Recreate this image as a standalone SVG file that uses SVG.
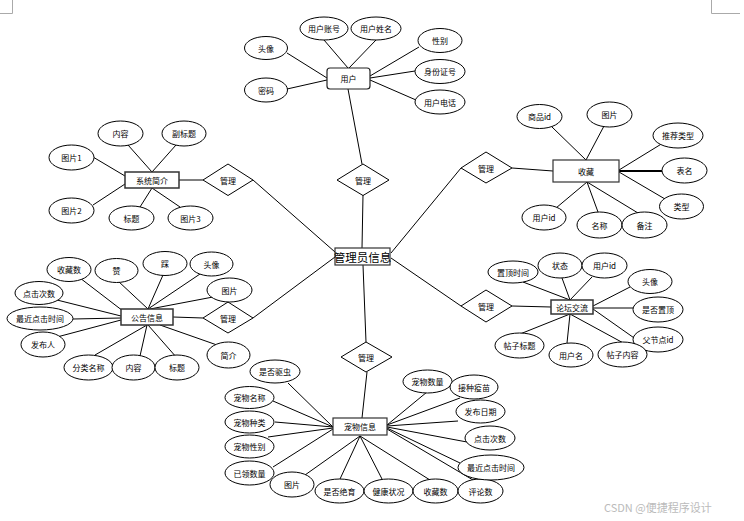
<svg xmlns="http://www.w3.org/2000/svg" width="744" height="521" viewBox="0 0 744 521">
<style>
text{font-family:"Noto Sans CJK SC","Liberation Sans",sans-serif;font-size:8px;fill:#000;text-anchor:middle;dominant-baseline:central}
ellipse{fill:#fff;stroke:#000;stroke-width:1}
.ent{fill:#fff;stroke:#333;stroke-width:1.5}
.rel{fill:#fff;stroke:#000;stroke-width:1}
#connectors line{stroke:#000;stroke-width:1}
.mark{stroke:#aaa;stroke-width:1;fill:none}
.big{font-size:11.5px}
.wm{font-size:11px;fill:#bbb;text-anchor:start}
</style>
<rect width="744" height="521" fill="#fff"/>
<path class="mark" d="M12.5 0V13.5H0M711.5 0V13.5H740"/>
<g id="connectors">
<!-- user -->
<line x1="324" y1="40" x2="348" y2="68"/>
<line x1="376" y1="40" x2="349" y2="68"/>
<line x1="287" y1="53" x2="327" y2="78"/>
<line x1="287" y1="89" x2="327" y2="80"/>
<line x1="419" y1="47" x2="370" y2="76"/>
<line x1="415" y1="71" x2="370" y2="78"/>
<line x1="416" y1="100" x2="370" y2="80"/>
<line x1="348" y1="89" x2="362" y2="164"/>
<!-- center -->
<line x1="363" y1="195" x2="362" y2="248"/>
<line x1="253" y1="180" x2="335" y2="252"/>
<line x1="253" y1="318" x2="335" y2="257"/>
<line x1="461" y1="168" x2="391" y2="253"/>
<line x1="461" y1="306" x2="391" y2="258"/>
<line x1="363" y1="265" x2="366" y2="342"/>
<!-- 系统简介 -->
<line x1="128" y1="145" x2="152" y2="172"/>
<line x1="176" y1="145" x2="152" y2="172"/>
<line x1="93" y1="157" x2="125" y2="176"/>
<line x1="93" y1="205" x2="125" y2="184"/>
<line x1="140" y1="207" x2="152" y2="188"/>
<line x1="180" y1="207" x2="152" y2="188"/>
<line x1="179" y1="180" x2="203" y2="180"/>
<!-- 收藏 -->
<line x1="552" y1="127" x2="586" y2="160"/>
<line x1="604" y1="126" x2="586" y2="160"/>
<line x1="663" y1="143" x2="619" y2="170"/>
<line x1="662" y1="171" x2="619" y2="171" style="stroke-width:1.8"/>
<line x1="665" y1="199" x2="619" y2="172"/>
<line x1="556" y1="208" x2="587" y2="182"/>
<line x1="598" y1="212" x2="587" y2="182"/>
<line x1="638" y1="213" x2="587" y2="182"/>
<line x1="512" y1="168" x2="553" y2="171"/>
<!-- 公告信息 -->
<line x1="80" y1="278" x2="123" y2="311"/>
<line x1="118" y1="281" x2="148" y2="309"/>
<line x1="163" y1="275" x2="148" y2="309"/>
<line x1="200" y1="274" x2="148" y2="309"/>
<line x1="213" y1="297" x2="150" y2="309"/>
<line x1="57" y1="300" x2="121" y2="316"/>
<line x1="73" y1="319" x2="121" y2="318"/>
<line x1="57" y1="337" x2="121" y2="320"/>
<line x1="95" y1="355" x2="147" y2="325"/>
<line x1="140" y1="356" x2="147" y2="325"/>
<line x1="177" y1="358" x2="148" y2="325"/>
<line x1="217" y1="345" x2="160" y2="325"/>
<line x1="173" y1="317" x2="203" y2="318"/>
<!-- 论坛交流 -->
<line x1="523" y1="282" x2="570" y2="300"/>
<line x1="562" y1="278" x2="570" y2="300"/>
<line x1="592" y1="277" x2="570" y2="300"/>
<line x1="630" y1="287" x2="593" y2="306"/>
<line x1="633" y1="308" x2="593" y2="308"/>
<line x1="637" y1="340" x2="593" y2="309"/>
<line x1="627" y1="345" x2="570" y2="314"/>
<line x1="567" y1="343" x2="570" y2="314"/>
<line x1="520" y1="334" x2="570" y2="314"/>
<line x1="512" y1="306" x2="551" y2="307"/>
<!-- 宠物信息 -->
<line x1="288" y1="383" x2="333" y2="427"/>
<line x1="273" y1="401" x2="333" y2="427"/>
<line x1="275" y1="422" x2="333" y2="427"/>
<line x1="268" y1="437" x2="333" y2="428"/>
<line x1="273" y1="467" x2="333" y2="429"/>
<line x1="305" y1="475" x2="360" y2="436"/>
<line x1="340" y1="479" x2="360" y2="436"/>
<line x1="382" y1="479" x2="360" y2="436"/>
<line x1="430" y1="480" x2="360" y2="436"/>
<line x1="427" y1="392" x2="387" y2="425"/>
<line x1="460" y1="398" x2="387" y2="425"/>
<line x1="458" y1="421" x2="387" y2="426"/>
<line x1="467" y1="442" x2="387" y2="427"/>
<line x1="460" y1="463" x2="387" y2="428"/>
<line x1="473" y1="480" x2="387" y2="429"/>
<line x1="367" y1="372" x2="362" y2="418"/>
</g>
<!-- 用户 -->
<g id="user"><rect x="327" y="68" width="43" height="21" rx="3" class="ent" style="stroke:#222;stroke-width:1.2"/><text x="348.5" y="78.5">用户</text></g>
<g id="user-account"><ellipse cx="324" cy="28.5" rx="24" ry="11.5"/><text x="324" y="28.5">用户账号</text></g>
<g id="user-name"><ellipse cx="376" cy="28.5" rx="25" ry="11.5"/><text x="376" y="28.5">用户姓名</text></g>
<g id="user-avatar"><ellipse cx="266" cy="48" rx="21.5" ry="11.5"/><text x="266" y="48">头像</text></g>
<g id="user-pwd"><ellipse cx="266" cy="90" rx="21.5" ry="12"/><text x="266" y="90">密码</text></g>
<g id="user-sex"><ellipse cx="440" cy="40.5" rx="22" ry="12"/><text x="440" y="40.5">性别</text></g>
<g id="user-id"><ellipse cx="440" cy="71.5" rx="25" ry="12"/><text x="440" y="71.5">身份证号</text></g>
<g id="user-tel"><ellipse cx="440" cy="102" rx="25" ry="12"/><text x="440" y="102">用户电话</text></g>
<!-- center -->
<g id="admin"><rect x="335" y="248" width="55" height="17" class="ent" style="stroke-width:1.2"/><text x="362.5" y="256.5" class="big">管理员信息</text></g>
<g id="rel-top"><polygon points="363,164 389,180 363,195.5 337,180" class="rel"/><text x="363" y="180">管理</text></g>
<g id="rel-lt"><polygon points="228,164 253,180 228,195.5 203,180" class="rel"/><text x="228" y="180">管理</text></g>
<g id="rel-lb"><polygon points="228,302 253,318 228,333 203,318" class="rel"/><text x="228" y="318">管理</text></g>
<g id="rel-bottom"><polygon points="366,342 392,357 366,372 341,357" class="rel"/><text x="366" y="357">管理</text></g>
<g id="rel-rt"><polygon points="486,152 512,168 486,183 461,168" class="rel"/><text x="486" y="168">管理</text></g>
<g id="rel-rb"><polygon points="486,290 512,306 486,322 461,306" class="rel"/><text x="486" y="306">管理</text></g>
<!-- 系统简介 -->
<g id="intro"><rect x="125" y="172" width="54" height="16" class="ent"/><text x="152" y="180">系统简介</text></g>
<g id="intro-content"><ellipse cx="120.5" cy="133.5" rx="22.5" ry="12.5"/><text x="120.5" y="133.5">内容</text></g>
<g id="intro-subtitle"><ellipse cx="184" cy="133.5" rx="22" ry="12.5"/><text x="184" y="133.5">副标题</text></g>
<g id="intro-pic1"><ellipse cx="71.5" cy="157.5" rx="22.5" ry="12.5"/><text x="71.5" y="157.5">图片1</text></g>
<g id="intro-pic2"><ellipse cx="71.5" cy="210.5" rx="22.5" ry="12.5"/><text x="71.5" y="210.5">图片2</text></g>
<g id="intro-title"><ellipse cx="131.5" cy="218" rx="22.5" ry="12"/><text x="131.5" y="218">标题</text></g>
<g id="intro-pic3"><ellipse cx="190.5" cy="218" rx="22.5" ry="12"/><text x="190.5" y="218">图片3</text></g>
<!-- 收藏 -->
<g id="fav"><rect x="553" y="160" width="66" height="22" class="ent" style="stroke-width:1.2"/><text x="586" y="171">收藏</text></g>
<g id="fav-goods"><ellipse cx="539.5" cy="116.5" rx="22.5" ry="12"/><text x="539.5" y="116.5">商品id</text></g>
<g id="fav-pic"><ellipse cx="609.5" cy="114.5" rx="22.5" ry="12.5"/><text x="609.5" y="114.5">图片</text></g>
<g id="fav-rec"><ellipse cx="678" cy="135.5" rx="25" ry="12.5"/><text x="678" y="135.5">推荐类型</text></g>
<g id="fav-table"><ellipse cx="684.5" cy="170.5" rx="22.5" ry="12.5"/><text x="684.5" y="170.5">表名</text></g>
<g id="fav-type"><ellipse cx="681.5" cy="206.5" rx="22" ry="12.5"/><text x="681.5" y="206.5">类型</text></g>
<g id="fav-uid"><ellipse cx="544" cy="217.5" rx="22" ry="12.5"/><text x="544" y="217.5">用户id</text></g>
<g id="fav-name"><ellipse cx="599.5" cy="225" rx="22.5" ry="13"/><text x="599.5" y="225">名称</text></g>
<g id="fav-note"><ellipse cx="644.5" cy="225" rx="22.5" ry="13"/><text x="644.5" y="225">备注</text></g>
<!-- 公告信息 -->
<g id="notice"><rect x="121" y="309" width="52" height="16" class="ent"/><text x="147" y="317">公告信息</text></g>
<g id="notice-fav"><ellipse cx="69" cy="269.5" rx="22" ry="12"/><text x="69" y="269.5">收藏数</text></g>
<g id="notice-up"><ellipse cx="116.5" cy="270.5" rx="21.5" ry="12"/><text x="116.5" y="270.5">赞</text></g>
<g id="notice-down"><ellipse cx="165" cy="263.5" rx="22" ry="12"/><text x="165" y="263.5">踩</text></g>
<g id="notice-avatar"><ellipse cx="211.5" cy="264" rx="21.5" ry="12"/><text x="211.5" y="264">头像</text></g>
<g id="notice-pic"><ellipse cx="229.5" cy="290" rx="22.5" ry="12"/><text x="229.5" y="290">图片</text></g>
<g id="notice-clicks"><ellipse cx="39" cy="293" rx="24" ry="11.5"/><text x="39" y="293">点击次数</text></g>
<g id="notice-lastclick"><ellipse cx="40" cy="318.5" rx="33" ry="11.5"/><text x="40" y="318.5">最近点击时间</text></g>
<g id="notice-author"><ellipse cx="43" cy="344.5" rx="22" ry="12.5"/><text x="43" y="344.5">发布人</text></g>
<g id="notice-cat"><ellipse cx="88.5" cy="367.5" rx="24.5" ry="12.5"/><text x="88.5" y="367.5">分类名称</text></g>
<g id="notice-content"><ellipse cx="133.5" cy="367.5" rx="21.5" ry="12.5"/><text x="133.5" y="367.5">内容</text></g>
<g id="notice-title"><ellipse cx="177" cy="367.5" rx="22" ry="12.5"/><text x="177" y="367.5">标题</text></g>
<g id="notice-brief"><ellipse cx="228.5" cy="355" rx="21.5" ry="13"/><text x="228.5" y="355">简介</text></g>
<!-- 论坛交流 -->
<g id="forum"><rect x="551" y="300" width="42" height="14" class="ent"/><text x="572" y="307">论坛交流</text></g>
<g id="forum-toptime"><ellipse cx="513" cy="272" rx="25" ry="11"/><text x="513" y="272">置顶时间</text></g>
<g id="forum-state"><ellipse cx="560" cy="265.5" rx="22" ry="12.5"/><text x="560" y="265.5">状态</text></g>
<g id="forum-uid"><ellipse cx="604.5" cy="265.5" rx="22.5" ry="12.5"/><text x="604.5" y="265.5">用户id</text></g>
<g id="forum-avatar"><ellipse cx="650" cy="281.5" rx="22" ry="12"/><text x="650" y="281.5">头像</text></g>
<g id="forum-istop"><ellipse cx="658" cy="309.5" rx="25" ry="12.5"/><text x="658" y="309.5">是否置顶</text></g>
<g id="forum-parent"><ellipse cx="658" cy="339.5" rx="25" ry="12.5"/><text x="658" y="339.5">父节点id</text></g>
<g id="forum-content"><ellipse cx="622.5" cy="354.5" rx="24.5" ry="12.5"/><text x="622.5" y="354.5">帖子内容</text></g>
<g id="forum-uname"><ellipse cx="571" cy="355" rx="22" ry="12"/><text x="571" y="355">用户名</text></g>
<g id="forum-title"><ellipse cx="519.5" cy="345.5" rx="24.5" ry="12.5"/><text x="519.5" y="345.5">帖子标题</text></g>
<!-- 宠物信息 -->
<g id="pet"><rect x="333" y="418" width="54" height="17" class="ent" style="stroke-width:1.2"/><text x="360" y="426.5">宠物信息</text></g>
<g id="pet-deworm"><ellipse cx="275" cy="371.5" rx="25" ry="11.5"/><text x="275" y="371.5">是否驱虫</text></g>
<g id="pet-name"><ellipse cx="249.5" cy="397.5" rx="24.5" ry="11"/><text x="249.5" y="397.5">宠物名称</text></g>
<g id="pet-kind"><ellipse cx="249.5" cy="422" rx="24.5" ry="11"/><text x="249.5" y="422">宠物种类</text></g>
<g id="pet-sex"><ellipse cx="249.5" cy="446.5" rx="24.5" ry="11.5"/><text x="249.5" y="446.5">宠物性别</text></g>
<g id="pet-adopted"><ellipse cx="249.5" cy="473" rx="24.5" ry="12"/><text x="249.5" y="473">已领数量</text></g>
<g id="pet-pic"><ellipse cx="292" cy="484.5" rx="22" ry="12.5"/><text x="292" y="484.5">图片</text></g>
<g id="pet-neuter"><ellipse cx="339.5" cy="491" rx="24.5" ry="12"/><text x="339.5" y="491">是否绝育</text></g>
<g id="pet-health"><ellipse cx="388.5" cy="491" rx="24.5" ry="12"/><text x="388.5" y="491">健康状况</text></g>
<g id="pet-fav"><ellipse cx="435.5" cy="491" rx="22.5" ry="12"/><text x="435.5" y="491">收藏数</text></g>
<g id="pet-comments"><ellipse cx="480.5" cy="491" rx="22.5" ry="12"/><text x="480.5" y="491">评论数</text></g>
<g id="pet-count"><ellipse cx="427.5" cy="381.5" rx="24.5" ry="11.5"/><text x="427.5" y="381.5">宠物数量</text></g>
<g id="pet-vaccine"><ellipse cx="474" cy="387" rx="24" ry="12"/><text x="474" y="387">接种疫苗</text></g>
<g id="pet-date"><ellipse cx="480.5" cy="411.5" rx="24.5" ry="11.5"/><text x="480.5" y="411.5">发布日期</text></g>
<g id="pet-clicks"><ellipse cx="490" cy="438" rx="25" ry="12"/><text x="490" y="438">点击次数</text></g>
<g id="pet-lastclick"><ellipse cx="491" cy="467.5" rx="33" ry="12.5"/><text x="491" y="467.5">最近点击时间</text></g>
<text x="604" y="507" class="wm">CSDN @便捷程序设计</text>
</svg>
